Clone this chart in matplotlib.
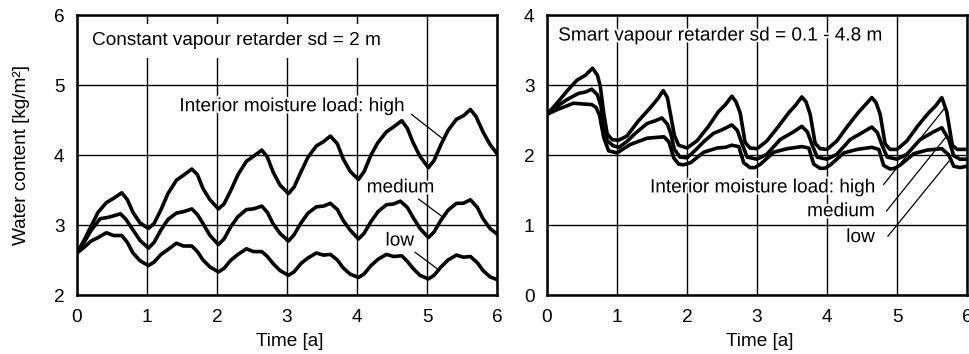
import matplotlib
matplotlib.use("Agg")
import matplotlib.pyplot as plt
import matplotlib.patheffects as pe

plt.rcParams['font.family'] = ['Liberation Sans', 'DejaVu Sans']

# ---------------- data ----------------
# Left panel: constant vapour retarder sd = 2 m
left_high_x = [0.00, 0.10, 0.20, 0.30, 0.42, 0.52, 0.64, 0.72, 0.80, 0.90,
               1.02, 1.10, 1.20, 1.30, 1.42, 1.52, 1.64, 1.72, 1.80, 1.90,
               2.02, 2.10, 2.20, 2.30, 2.42, 2.52, 2.64, 2.72, 2.80, 2.90,
               3.02, 3.10, 3.20, 3.30, 3.42, 3.52, 3.62, 3.72, 3.80, 3.90,
               4.02, 4.10, 4.20, 4.30, 4.42, 4.52, 4.64, 4.72, 4.80, 4.90,
               5.02, 5.10, 5.20, 5.30, 5.42, 5.52, 5.62, 5.70, 5.80, 5.90, 6.00]
left_high_y = [2.60, 2.78, 2.98, 3.18, 3.32, 3.38, 3.46, 3.36, 3.18, 3.03,
               2.95, 3.02, 3.22, 3.45, 3.64, 3.71, 3.80, 3.72, 3.52, 3.36,
               3.23, 3.30, 3.50, 3.72, 3.91, 3.98, 4.07, 3.97, 3.76, 3.57,
               3.45, 3.54, 3.76, 3.97, 4.13, 4.19, 4.27, 4.16, 3.95, 3.77,
               3.65, 3.76, 4.00, 4.18, 4.33, 4.40, 4.49, 4.38, 4.18, 3.98,
               3.82, 3.92, 4.15, 4.35, 4.51, 4.56, 4.65, 4.55, 4.33, 4.15, 4.02]

left_med_x = [0.00, 0.10, 0.20, 0.33, 0.45, 0.62, 0.70, 0.80, 0.90,
              1.02, 1.10, 1.20, 1.30, 1.42, 1.52, 1.64, 1.72, 1.80, 1.90,
              2.02, 2.10, 2.20, 2.30, 2.42, 2.52, 2.64, 2.72, 2.80, 2.90,
              3.02, 3.10, 3.20, 3.30, 3.42, 3.52, 3.62, 3.72, 3.80, 3.90,
              4.02, 4.10, 4.20, 4.30, 4.42, 4.52, 4.62, 4.72, 4.80, 4.90,
              5.02, 5.10, 5.20, 5.30, 5.42, 5.52, 5.62, 5.72, 5.80, 5.90, 6.00]
left_med_y = [2.60, 2.75, 2.92, 3.09, 3.11, 3.16, 3.08, 2.93, 2.78,
              2.67, 2.75, 2.93, 3.08, 3.17, 3.19, 3.23, 3.15, 3.02, 2.85,
              2.72, 2.80, 2.98, 3.12, 3.22, 3.23, 3.27, 3.18, 3.02, 2.88,
              2.77, 2.86, 3.03, 3.17, 3.26, 3.27, 3.31, 3.22, 3.07, 2.93,
              2.80, 2.88, 3.05, 3.19, 3.29, 3.30, 3.34, 3.25, 3.11, 2.95,
              2.82, 2.90, 3.07, 3.21, 3.31, 3.31, 3.36, 3.25, 3.09, 2.95, 2.87]

left_low_x = [0.00, 0.10, 0.20, 0.30, 0.42, 0.52, 0.64, 0.72, 0.80, 0.90,
              1.02, 1.10, 1.20, 1.30, 1.42, 1.52, 1.64, 1.72, 1.80, 1.90,
              2.02, 2.10, 2.20, 2.30, 2.42, 2.52, 2.64, 2.72, 2.80, 2.90,
              3.02, 3.10, 3.20, 3.30, 3.42, 3.52, 3.62, 3.72, 3.80, 3.90,
              4.02, 4.10, 4.20, 4.30, 4.42, 4.52, 4.64, 4.72, 4.80, 4.90,
              5.02, 5.10, 5.20, 5.30, 5.42, 5.52, 5.62, 5.72, 5.80, 5.90, 6.00]
left_low_y = [2.60, 2.68, 2.77, 2.82, 2.89, 2.85, 2.85, 2.75, 2.60, 2.49,
              2.42, 2.47, 2.58, 2.65, 2.74, 2.70, 2.70, 2.62, 2.50, 2.40,
              2.33, 2.38, 2.50, 2.58, 2.66, 2.62, 2.62, 2.55, 2.45, 2.35,
              2.28, 2.33, 2.45, 2.53, 2.60, 2.57, 2.58, 2.50, 2.39, 2.30,
              2.25, 2.30, 2.42, 2.51, 2.58, 2.55, 2.56, 2.48, 2.38, 2.28,
              2.23, 2.28, 2.40, 2.50, 2.57, 2.54, 2.55, 2.46, 2.35, 2.26, 2.22]

# Right panel: smart vapour retarder sd = 0.1 - 4.8 m
right_high_x = [0.00, 0.15, 0.30, 0.43, 0.55, 0.65, 0.72, 0.76, 0.81, 0.86, 0.93,
                1.02, 1.14, 1.30, 1.48, 1.58, 1.66, 1.72, 1.77, 1.82, 1.88,
                2.00, 2.14, 2.30, 2.45, 2.55, 2.64, 2.70, 2.76, 2.83, 2.90,
                3.00, 3.14, 3.30, 3.45, 3.55, 3.64, 3.70, 3.76, 3.83, 3.90,
                4.00, 4.14, 4.30, 4.45, 4.55, 4.64, 4.70, 4.76, 4.83, 4.90,
                5.00, 5.14, 5.30, 5.45, 5.55, 5.64, 5.71, 5.79, 5.86, 6.00]
right_high_y = [2.58, 2.75, 2.93, 3.07, 3.14, 3.24, 3.14, 2.99, 2.60, 2.30, 2.22,
                2.21, 2.27, 2.48, 2.68, 2.80, 2.92, 2.82, 2.55, 2.28, 2.14,
                2.10, 2.20, 2.40, 2.62, 2.72, 2.84, 2.76, 2.60, 2.18, 2.10,
                2.09, 2.20, 2.40, 2.60, 2.71, 2.83, 2.76, 2.58, 2.17, 2.09,
                2.08, 2.20, 2.42, 2.61, 2.72, 2.82, 2.75, 2.58, 2.16, 2.08,
                2.08, 2.20, 2.42, 2.60, 2.70, 2.82, 2.62, 2.14, 2.08, 2.08]

right_med_x = [0.00, 0.15, 0.30, 0.45, 0.55, 0.64, 0.72, 0.77, 0.81, 0.86, 0.95,
               1.03, 1.15, 1.25, 1.43, 1.55, 1.64, 1.72, 1.77, 1.82, 1.90,
               2.00, 2.10, 2.25, 2.38, 2.50, 2.64, 2.72, 2.79, 2.86,
               3.00, 3.14, 3.33, 3.52, 3.64, 3.72, 3.79, 3.86,
               4.00, 4.14, 4.33, 4.52, 4.64, 4.72, 4.79, 4.86,
               5.00, 5.14, 5.33, 5.52, 5.64, 5.74, 5.81, 5.90, 6.00]
right_med_y = [2.58, 2.70, 2.80, 2.88, 2.90, 2.94, 2.86, 2.70, 2.44, 2.20, 2.13,
               2.11, 2.20, 2.30, 2.45, 2.49, 2.53, 2.44, 2.30, 2.08, 1.97,
               1.96, 2.05, 2.20, 2.31, 2.36, 2.43, 2.35, 2.15, 1.97,
               1.94, 2.01, 2.22, 2.33, 2.41, 2.33, 2.14, 1.97,
               1.94, 2.01, 2.22, 2.33, 2.40, 2.32, 2.13, 1.97,
               1.94, 2.01, 2.22, 2.33, 2.39, 2.22, 1.99, 1.94, 1.94]

right_low_x = [0.00, 0.15, 0.38, 0.50, 0.64, 0.70, 0.75, 0.81, 0.88,
               1.00, 1.19, 1.43, 1.55, 1.67, 1.74, 1.81, 1.88, 1.95,
               2.05, 2.24, 2.43, 2.55, 2.64, 2.74, 2.81, 2.90, 2.97,
               3.05, 3.24, 3.43, 3.64, 3.74, 3.81, 3.90, 3.97,
               4.05, 4.24, 4.43, 4.64, 4.74, 4.81, 4.90, 4.97,
               5.05, 5.24, 5.43, 5.64, 5.74, 5.81, 5.90, 6.00]
right_low_y = [2.58, 2.65, 2.74, 2.73, 2.72, 2.68, 2.57, 2.25, 2.06,
               2.03, 2.15, 2.24, 2.25, 2.26, 2.19, 1.96, 1.87, 1.86,
               1.89, 2.04, 2.10, 2.11, 2.14, 2.12, 1.89, 1.82, 1.82,
               1.87, 2.04, 2.09, 2.12, 2.10, 1.87, 1.81, 1.81,
               1.86, 2.03, 2.08, 2.11, 2.08, 1.85, 1.80, 1.81,
               1.86, 2.02, 2.07, 2.09, 2.00, 1.84, 1.82, 1.84]

x_ticks = [0, 1, 2, 3, 4, 5, 6]
left_y_ticks = [2, 3, 4, 5, 6]
right_y_ticks = [0, 1, 2, 3, 4]

left_title = "Constant vapour retarder sd = 2 m"
right_title = "Smart vapour retarder sd = 0.1 - 4.8 m"
label_names = ["Interior moisture load: high", "medium", "low"]

# ---------------- figure ----------------
W, H = 970, 354
fig = plt.figure(figsize=(W / 100, H / 100), dpi=100)
fig.patch.set_facecolor('white')

ax_l = fig.add_axes([77 / W, 1 - 295 / H, 420 / W, 280 / H])
ax_r = fig.add_axes([547 / W, 1 - 295 / H, 420 / W, 280 / H])

FS = 13.7
CURVE_LW = 2.6
stroke = [pe.withStroke(linewidth=3, foreground='white')]

for ax, yt in ((ax_l, left_y_ticks), (ax_r, right_y_ticks)):
    ax.set_xlim(x_ticks[0], x_ticks[-1])
    ax.set_ylim(yt[0], yt[-1])
    ax.set_xticks(x_ticks)
    ax.set_yticks(yt)
    ax.grid(True, color='black', linewidth=1.0)
    ax.set_axisbelow(True)
    ax.tick_params(axis='both', length=0, labelsize=FS)
    ax.tick_params(axis='x', pad=10)
    ax.tick_params(axis='y', pad=9)
    for s in ax.spines.values():
        s.set_linewidth(1.8)
        s.set_color('black')

# left curves
for xs, ys in ((left_high_x, left_high_y), (left_med_x, left_med_y), (left_low_x, left_low_y)):
    ax_l.plot(xs, ys, color='black', lw=CURVE_LW, solid_joinstyle='round', zorder=3)

# right curves
for xs, ys in ((right_high_x, right_high_y), (right_med_x, right_med_y), (right_low_x, right_low_y)):
    ax_r.plot(xs, ys, color='black', lw=CURVE_LW, solid_joinstyle='round', zorder=3)

# titles inside panels
ax_l.text(0.21, 5.63, left_title, fontsize=FS, ha='left', va='center', zorder=4,
          bbox=dict(facecolor='white', edgecolor='none', pad=6))
ax_r.text(0.16, 3.70, right_title, fontsize=FS, ha='left', va='center', zorder=4,
          path_effects=stroke)

# left labels + leader lines
ax_l.text(4.66, 4.69, label_names[0], fontsize=FS, ha='right', va='center', zorder=4, path_effects=stroke)
ax_l.text(4.62, 3.53, label_names[1], fontsize=FS, ha='center', va='center', zorder=4, path_effects=stroke)
ax_l.text(4.61, 2.77, label_names[2], fontsize=FS, ha='center', va='center', zorder=4, path_effects=stroke)
ax_l.plot([4.78, 5.24], [4.58, 4.22], color='black', lw=0.9, zorder=2)
ax_l.plot([4.88, 5.23], [3.37, 3.11], color='black', lw=0.9, zorder=2)
ax_l.plot([4.83, 5.14], [2.61, 2.38], color='black', lw=0.9, zorder=2)

# right labels + leader lines
ax_r.text(4.67, 1.53, label_names[0], fontsize=FS, ha='right', va='center', zorder=4, path_effects=stroke)
ax_r.text(4.68, 1.19, label_names[1], fontsize=FS, ha='right', va='center', zorder=4, path_effects=stroke)
ax_r.text(4.68, 0.82, label_names[2], fontsize=FS, ha='right', va='center', zorder=4, path_effects=stroke)
ax_r.plot([4.81, 5.69], [1.58, 2.68], color='black', lw=0.9, zorder=2)
ax_r.plot([4.85, 5.71], [1.20, 2.27], color='black', lw=0.9, zorder=2)
ax_r.plot([4.87, 5.74], [0.84, 1.91], color='black', lw=0.9, zorder=2)

# axis labels
fig.text(290 / W, 1 - 342 / H, "Time [a]", fontsize=FS, ha='center', va='center')
fig.text(760 / W, 1 - 342 / H, "Time [a]", fontsize=FS, ha='center', va='center')
fig.text(22 / W, 1 - 155 / H, "Water content [kg/m²]", fontsize=FS, ha='center', va='center', rotation=90)

fig.savefig("out.png", dpi=100, facecolor='white')
